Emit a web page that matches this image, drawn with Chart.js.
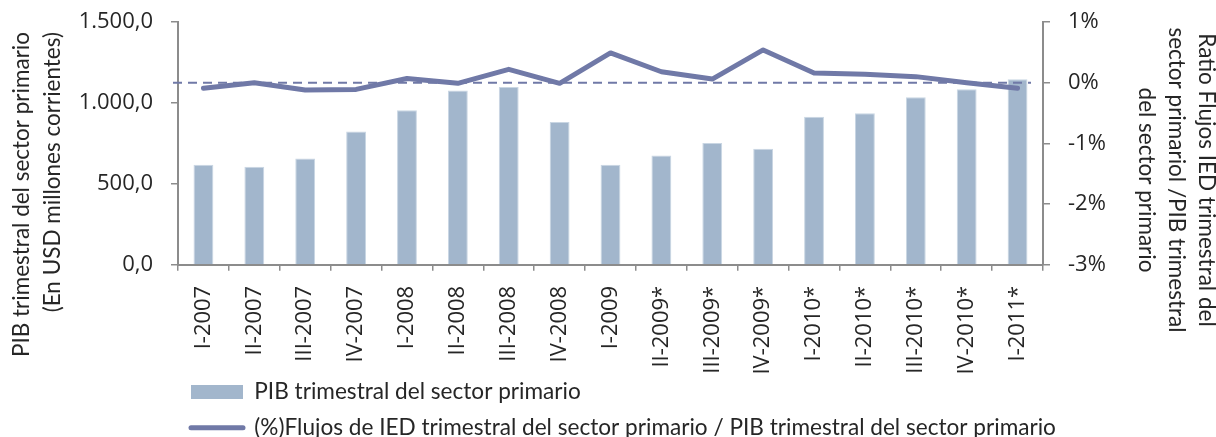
<!DOCTYPE html>
<html><head><meta charset="utf-8">
<script src="https://cdn.jsdelivr.net/npm/chart.js@4.4.0/dist/chart.umd.min.js"></script>
<style>html,body{margin:0;padding:0;background:#fff;}#wrap{width:1216px;height:437px;position:relative;}</style>
</head><body><div id="wrap"><canvas id="c"></canvas></div>
<script>
const categories = ["I-2007","II-2007","III-2007","IV-2007","I-2008","II-2008","III-2008","IV-2008","I-2009","II-2009*","III-2009*","IV-2009*","I-2010*","II-2010*","III-2010*","IV-2010*","I-2011*"];
const pibValues = [618, 606, 657, 823, 955, 1077, 1099, 882, 618, 676, 752, 717, 915, 936, 1035, 1085, 1147];
const ratioValues = [-0.09, 0.00, -0.12, -0.11, 0.07, -0.01, 0.22, -0.01, 0.49, 0.18, 0.06, 0.54, 0.16, 0.14, 0.10, 0.00, -0.09];
const leftTickLabels = ["0,0", "500,0", "1.000,0", "1.500,0"];
const rightTickLabels = ["-3%", "-2%", "-1%", "0%", "1%"];
const seriesNames = ["PIB trimestral del sector primario", "(%)Flujos de IED trimestral del sector primario / PIB trimestral del sector primario"];
const leftTitle = ["PIB trimestral del sector primario", "(En USD millones corrientes)"];
const rightTitle = ["Ratio Flujos IED trimestral del", "sector primariol /PIB trimestral", "del sector primario"];

const barColor = '#a2b6cc';
const lineColor = '#7079a7';
const axisColor = '#8c8c8c';
const textColor = '#262626';
const tickFont = {family: "'Open Sans'", size: 22};
const legendFont = {family: "Lato", size: 22.6};
const titleFontSize = 22.5;

const zeroLine = {
  id: 'zeroLine',
  afterDatasetDraw(chart, args) {
    if (args.index !== 0) return;
    const ctx = chart.ctx;
    const y = chart.scales.y1.getPixelForValue(0);
    const {left, right} = chart.chartArea;
    ctx.save();
    ctx.setLineDash([9, 6]);
    ctx.strokeStyle = lineColor;
    ctx.lineWidth = 2;
    ctx.beginPath();
    ctx.moveTo(left - 5, y);
    ctx.lineTo(right - 12, y);
    ctx.stroke();
    ctx.restore();
  }
};

const legendWidth = {
  id: 'legendWidth',
  afterLayout(chart) {
    if (chart.legend) { chart.legend.right = chart.width; chart.legend.width = chart.width - chart.legend.left; }
  }
};

const axisTitles = {
  id: 'axisTitles',
  afterDraw(chart) {
    const ctx = chart.ctx;
    ctx.save();
    ctx.font = titleFontSize + 'px Lato';
    ctx.fillStyle = textColor;
    ctx.textBaseline = 'middle';
    const lx = [22, 53];
    leftTitle.forEach((t, i) => {
      ctx.save();
      ctx.translate(lx[i], 32);
      ctx.rotate(-Math.PI / 2);
      ctx.textAlign = 'right';
      ctx.fillText(t, 0, 0);
      ctx.restore();
    });
    const rx = [1206, 1176, 1146];
    rightTitle.forEach((t, i) => {
      ctx.save();
      ctx.translate(rx[i], 180);
      ctx.rotate(Math.PI / 2);
      ctx.textAlign = 'center';
      ctx.fillText(t, 0, 0);
      ctx.restore();
    });
    ctx.restore();
  }
};

new Chart(document.getElementById('c'), {
  data: {
    labels: categories,
    datasets: [
      {type: 'bar', label: seriesNames[0], data: pibValues, yAxisID: 'y', backgroundColor: barColor,
       borderColor: '#c9d6e3', borderWidth: 1, barPercentage: 0.39, categoryPercentage: 1, order: 1},
      {type: 'line', label: seriesNames[1], data: ratioValues, yAxisID: 'y1', borderColor: lineColor,
       backgroundColor: lineColor, borderWidth: 5, pointRadius: 0, tension: 0,
       borderCapStyle: 'round', borderJoinStyle: 'round', order: 0}
    ]
  },
  options: {
    responsive: true, maintainAspectRatio: false, animation: false, devicePixelRatio: 1,
    layout: {padding: {top: 22, bottom: -12, left: 0, right: 0}},
    scales: {
      x: {
        type: 'category', offset: true,
        grid: {display: true, drawOnChartArea: false, offset: true, tickLength: 6, color: axisColor, lineWidth: 1.5},
        border: {color: axisColor, width: 2},
        ticks: {minRotation: 90, maxRotation: 90, autoSkip: false, padding: 15, font: tickFont, color: textColor},
        afterFit(s) { s.height = 103; s._computeLabelArea = () => undefined; }
      },
      y: {
        position: 'left', min: 0, max: 1500,
        grid: {display: true, drawOnChartArea: false, tickLength: 7, color: axisColor, lineWidth: 1.5},
        border: {color: axisColor, width: 2},
        ticks: {stepSize: 500, padding: 18, font: tickFont, color: textColor,
          callback: (v, i) => leftTickLabels[i]},
        afterFit(s) { s.width = 178; s.paddingTop = 0; s.paddingBottom = 0; }
      },
      y1: {
        position: 'right', min: -3, max: 1,
        grid: {display: true, drawOnChartArea: false, tickLength: 7, color: axisColor, lineWidth: 1.5},
        border: {color: axisColor, width: 2},
        ticks: {stepSize: 1, padding: 18, font: tickFont, color: textColor,
          callback: (v, i) => rightTickLabels[i]},
        afterFit(s) { s.width = 173; s.paddingTop = 0; s.paddingBottom = 0; }
      }
    },
    plugins: {
      tooltip: {enabled: false},
      legend: {
        position: 'bottom', align: 'start', fullSize: false,
        labels: {
          usePointStyle: true, pointStyleWidth: 52, boxHeight: 14, padding: 13,
          font: legendFont, color: textColor,
          generateLabels(chart) {
            const items = Chart.defaults.plugins.legend.labels.generateLabels(chart);
            items.forEach(it => {
              if (it.datasetIndex === 0) {
                it.pointStyle = 'rect'; it.lineWidth = 0; it.fillStyle = barColor; it.strokeStyle = 'rgba(0,0,0,0)';
              } else {
                it.pointStyle = 'line'; it.lineWidth = 5; it.strokeStyle = lineColor; it.lineCap = 'round';
              }
            });
            return items.sort((a, b) => a.datasetIndex - b.datasetIndex);
          }
        }
      }
    }
  },
  plugins: [zeroLine, legendWidth, axisTitles]
});
</script>
</body></html>
